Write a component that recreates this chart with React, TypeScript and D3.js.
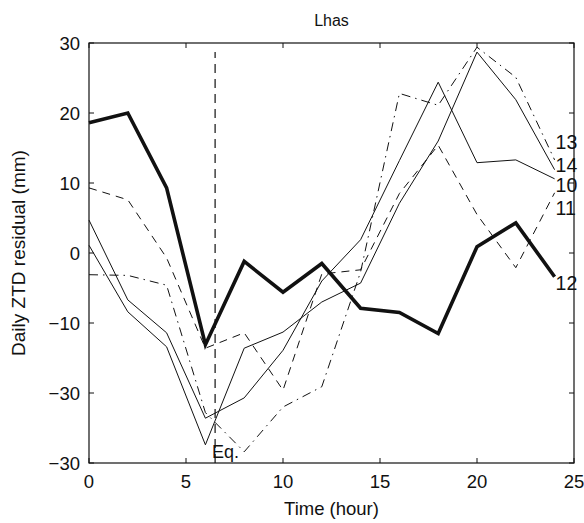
import React, { useEffect, useRef } from 'react';
import * as d3 from 'd3';

const hours = [0, 2, 4, 6, 8, 10, 12, 14, 16, 18, 20, 22, 24];
const s10 = [4.7, -6.7, -11.4, -23.6, -20.7, -13.9, -4.0, 1.9, 13.2, 24.4, 12.9, 13.3, 10.6];
const s11 = [9.3, 7.6, -0.7, -13.6, -11.4, -19.6, -3.0, -2.4, 8.5, 15.4, 5.5, -2.1, 8.6];
const s12 = [18.6, 20.0, 9.3, -13.1, -1.2, -5.6, -1.5, -7.9, -8.5, -11.5, 0.9, 4.3, -3.4];
const s13 = [-3.1, -3.2, -4.6, -22.8, -28.4, -22.0, -19.1, -2.7, 22.8, 21.1, 29.4, 25.1, 13.3];
const s14 = [1.1, -8.4, -13.4, -27.4, -13.6, -11.3, -7.0, -4.3, 7.1, 16.0, 28.7, 21.9, 11.9];
const seriesNames = ['10', '11', '12', '13', '14'];
const labelValues = [9.7, 6.4, -4.3, 15.9, 12.6];
const xTicks = [0, 5, 10, 15, 20, 25];
const yTicks = [30, 20, 10, 0, -10, -20, -30];
const yTickLabels = ['30', '20', '10', '0', '\u221210', '\u221230', '\u221230'];
const quakeHour = 6.5;

const App = () => {
  const ref = useRef<SVGSVGElement>(null);

  useEffect(() => {
    const svg = d3.select(ref.current);
    svg.selectAll('*').remove();
    const font = 'Liberation Sans, Arial, sans-serif';

    const x = d3.scaleLinear().domain([0, 25]).range([89, 574]);
    const y = d3.scaleLinear().domain([-30, 30]).range([463, 43]);

    const styles = [
      { w: 1, dash: null },
      { w: 1, dash: '8,6' },
      { w: 3.6, dash: null },
      { w: 1, dash: '9,5,1.5,5' },
      { w: 1, dash: null },
    ];
    const all = [s10, s11, s12, s13, s14];

    const line = d3.line<number>().x((d, i) => x(hours[i])).y(d => y(d));

    // quake marker
    svg.append('line')
      .attr('x1', x(quakeHour)).attr('x2', x(quakeHour))
      .attr('y1', y(-30)).attr('y2', y(28.7))
      .attr('stroke', '#111').attr('stroke-width', 1.2).attr('stroke-dasharray', '9,6');

    all.forEach((vals, k) => {
      svg.append('path')
        .datum(vals)
        .attr('d', line)
        .attr('fill', 'none')
        .attr('stroke', '#111')
        .attr('stroke-width', styles[k].w)
        .attr('stroke-linejoin', 'miter')
        .attr('stroke-dasharray', styles[k].dash);
    });

    // frame
    svg.append('rect')
      .attr('x', x(0)).attr('y', y(30))
      .attr('width', x(25) - x(0)).attr('height', y(-30) - y(30))
      .attr('fill', 'none').attr('stroke', '#111').attr('stroke-width', 1.2);

    const tickLen = 5;
    xTicks.forEach(t => {
      svg.append('line').attr('x1', x(t)).attr('x2', x(t))
        .attr('y1', y(-30)).attr('y2', y(-30) - tickLen).attr('stroke', '#111');
      svg.append('line').attr('x1', x(t)).attr('x2', x(t))
        .attr('y1', y(30)).attr('y2', y(30) + tickLen).attr('stroke', '#111');
      svg.append('text').attr('x', x(t)).attr('y', y(-30) + 25)
        .attr('text-anchor', 'middle').attr('font-family', font).attr('font-size', 18.5)
        .attr('fill', '#111').text(String(t));
    });
    yTicks.forEach((t, i) => {
      svg.append('line').attr('x1', x(0)).attr('x2', x(0) + tickLen)
        .attr('y1', y(t)).attr('y2', y(t)).attr('stroke', '#111');
      svg.append('line').attr('x1', x(25)).attr('x2', x(25) - tickLen)
        .attr('y1', y(t)).attr('y2', y(t)).attr('stroke', '#111');
      svg.append('text').attr('x', x(0) - 9).attr('y', y(t))
        .attr('dy', '0.36em')
        .attr('text-anchor', 'end').attr('font-family', font).attr('font-size', 18.5)
        .attr('fill', '#111').text(yTickLabels[i]);
    });

    seriesNames.forEach((n, k) => {
      svg.append('text').attr('x', x(24) + 1).attr('y', y(labelValues[k]))
        .attr('dy', '0.36em').attr('font-family', font).attr('font-size', 19.5)
        .attr('fill', '#111').text(n);
    });

    svg.append('text').attr('x', x(quakeHour) - 3).attr('y', y(-28.4))
      .attr('dy', '0.36em').attr('font-family', font).attr('font-size', 18)
      .attr('fill', '#111').text('Eq.');

    svg.append('text').attr('x', (x(0) + x(25)) / 2).attr('y', 26)
      .attr('text-anchor', 'middle').attr('font-family', font).attr('font-size', 16)
      .attr('fill', '#111').text('Lhas');

    svg.append('text').attr('x', (x(0) + x(25)) / 2).attr('y', 515)
      .attr('text-anchor', 'middle').attr('font-family', font).attr('font-size', 18.5)
      .attr('fill', '#111').text('Time (hour)');

    svg.append('text')
      .attr('transform', `translate(25, ${(y(30) + y(-30)) / 2}) rotate(-90)`)
      .attr('text-anchor', 'middle').attr('font-family', font).attr('font-size', 19)
      .attr('fill', '#111').text('Daily ZTD residual (mm)');
  }, []);

  return (
    <svg ref={ref} width={584} height={523}
      style={{ position: 'absolute', left: 0, top: 0, background: '#fff' }} />
  );
};

export default App;
